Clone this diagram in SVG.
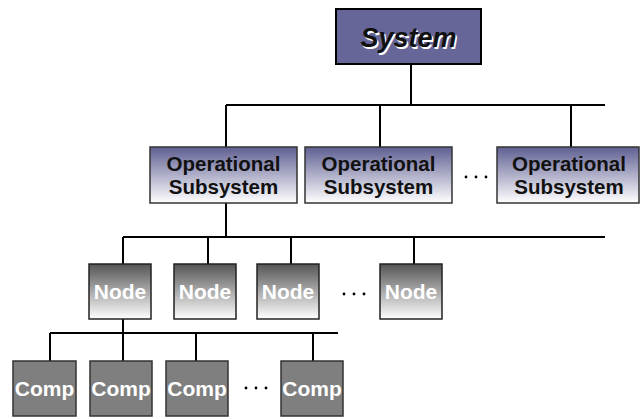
<svg xmlns="http://www.w3.org/2000/svg" width="640" height="419" viewBox="0 0 640 419">
  <defs>
    <linearGradient id="gradSub" x1="0" y1="0" x2="0" y2="1">
      <stop offset="0" stop-color="#5f5f93"/>
      <stop offset="1" stop-color="#ffffff"/>
    </linearGradient>
    <linearGradient id="gradNode" x1="0" y1="0" x2="0" y2="1">
      <stop offset="0" stop-color="#555555"/>
      <stop offset="1" stop-color="#ffffff"/>
    </linearGradient>
  </defs>
  <style>
    .wire { stroke: #000; stroke-width: 2; fill: none; }
    .sys { fill: #666699; stroke: #000; stroke-width: 2; }
    .sub { fill: url(#gradSub); stroke: #333; stroke-width: 1.5; }
    .node { fill: url(#gradNode); stroke: #222; stroke-width: 1.5; }
    .comp { fill: #7f7f7f; stroke: #333; stroke-width: 1.5; }
    .lbl { font-family: "Liberation Sans", Arial, sans-serif; font-weight: bold; text-anchor: middle; }
    .sysTxt { font-size: 27px; font-style: italic; fill: #111; }
    .sysShadow { font-size: 27px; font-style: italic; fill: #ffffff; }
    .subTxt { font-size: 20.5px; fill: #111; }
    .whiteTxt { font-size: 21px; fill: #ffffff; }
    .dot { fill: #000; }
  </style>

  <!-- connectors -->
  <g id="connectors" class="wire">
    <path d="M411 64 V105 M226 105 H605 M226 105 V147 M380 105 V147 M571 105 V147"/>
    <path d="M226 203 V237 M123 237 H605 M123 237 V264 M208 237 V264 M291 237 V264 M414 237 V264"/>
    <path d="M123 319 V333 M50 333 H338 M50 333 V361 M123 333 V361 M196 333 V361 M313 333 V361"/>
  </g>

  <!-- top level -->
  <g id="system">
    <rect class="sys" x="336" y="9" width="145" height="55"/>
    <text class="lbl sysShadow" x="410" y="48.5">System</text>
    <text class="lbl sysTxt" x="408.5" y="47">System</text>
  </g>

  <!-- operational subsystems -->
  <g id="subsystem1">
    <rect class="sub" x="150" y="147" width="147" height="56"/>
    <text class="lbl subTxt" x="223.5" y="171">Operational</text>
    <text class="lbl subTxt" x="223.5" y="194">Subsystem</text>
  </g>
  <g id="subsystem2">
    <rect class="sub" x="305" y="147" width="147" height="56"/>
    <text class="lbl subTxt" x="378.5" y="171">Operational</text>
    <text class="lbl subTxt" x="378.5" y="194">Subsystem</text>
  </g>
  <g id="subsystemDots">
    <circle class="dot" cx="466" cy="177" r="1.4"/>
    <circle class="dot" cx="476" cy="177" r="1.4"/>
    <circle class="dot" cx="486" cy="177" r="1.4"/>
  </g>
  <g id="subsystem3">
    <rect class="sub" x="497" y="147" width="142" height="56"/>
    <text class="lbl subTxt" x="569" y="171">Operational</text>
    <text class="lbl subTxt" x="569" y="194">Subsystem</text>
  </g>

  <!-- nodes -->
  <g id="node1">
    <rect class="node" x="89" y="264" width="62" height="55"/>
    <text class="lbl whiteTxt" x="120" y="299">Node</text>
  </g>
  <g id="node2">
    <rect class="node" x="174" y="264" width="62" height="55"/>
    <text class="lbl whiteTxt" x="205" y="299">Node</text>
  </g>
  <g id="node3">
    <rect class="node" x="257" y="264" width="62" height="55"/>
    <text class="lbl whiteTxt" x="288" y="299">Node</text>
  </g>
  <g id="nodeDots">
    <circle class="dot" cx="344" cy="294" r="1.4"/>
    <circle class="dot" cx="354" cy="294" r="1.4"/>
    <circle class="dot" cx="364" cy="294" r="1.4"/>
  </g>
  <g id="node4">
    <rect class="node" x="380" y="264" width="62" height="55"/>
    <text class="lbl whiteTxt" x="411" y="299">Node</text>
  </g>

  <!-- components -->
  <g id="comp1">
    <rect class="comp" x="13" y="361" width="63" height="55"/>
    <text class="lbl whiteTxt" x="44.5" y="396">Comp</text>
  </g>
  <g id="comp2">
    <rect class="comp" x="90" y="361" width="62" height="55"/>
    <text class="lbl whiteTxt" x="121" y="396">Comp</text>
  </g>
  <g id="comp3">
    <rect class="comp" x="166" y="361" width="62" height="55"/>
    <text class="lbl whiteTxt" x="197" y="396">Comp</text>
  </g>
  <g id="compDots">
    <circle class="dot" cx="246" cy="388" r="1.4"/>
    <circle class="dot" cx="256" cy="388" r="1.4"/>
    <circle class="dot" cx="266" cy="388" r="1.4"/>
  </g>
  <g id="comp4">
    <rect class="comp" x="281" y="361" width="62" height="55"/>
    <text class="lbl whiteTxt" x="312" y="396">Comp</text>
  </g>
</svg>
